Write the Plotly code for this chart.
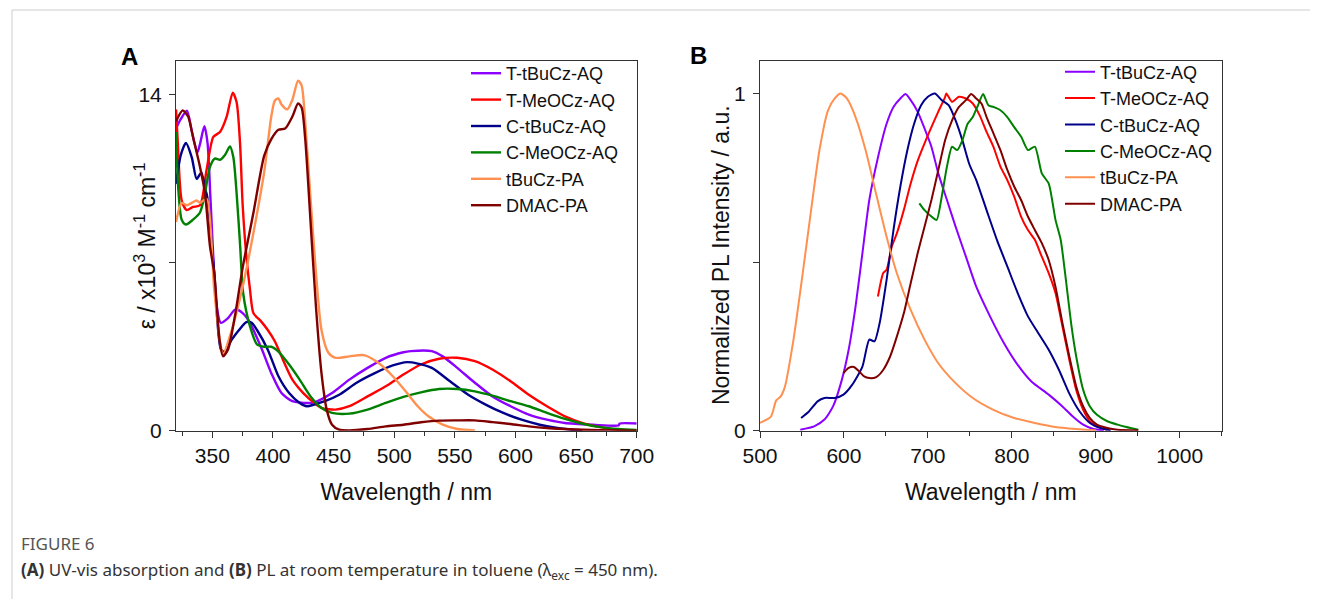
import plotly.graph_objects as go

# The page places the figure 8 px from the top-left corner (default body margin),
# so the figure is sized to the remaining window area and positions are shifted by 8 px.
OFF = 8
W, H = 1322 - OFF, 599 - OFF

# ---------------- Panel A: UV-vis absorption ----------------
names = ["T-tBuCz-AQ", "T-MeOCz-AQ", "C-tBuCz-AQ", "C-MeOCz-AQ", "tBuCz-PA", "DMAC-PA"]
colors = ["#8B00FF", "#FF0000", "#00008B", "#008000", "#FF9050", "#800000"]

abs_T_tBu_x = [320, 324, 329, 333, 337.6, 340, 343.4, 346, 348.5, 351, 353, 357, 363, 369, 375, 381, 390, 398.6,
               407, 416, 425, 434, 448.7, 463, 478, 493, 507.6, 513.5, 531, 540, 552, 566.5, 581, 596, 611, 626,
               640.8, 664, 685, 686, 700]
abs_T_tBu_y = [12.6, 13.0, 13.35, 12.5, 11.6, 12.0, 12.7, 12.0, 9.6, 7.0, 5.4, 4.5, 4.7, 5.06, 4.9, 4.5, 3.5, 2.4,
               1.57, 1.23, 1.16, 1.18, 1.57, 2.13, 2.62, 3.04, 3.27, 3.32, 3.32, 3.1, 2.62, 2.0, 1.43, 1.02, 0.67,
               0.46, 0.32, 0.25, 0.22, 0.3, 0.3]

abs_T_MeO_x = [320, 321.5, 324.7, 328.8, 334, 339.8, 345.3, 350.8, 356.3, 361.8, 366.8, 370, 372.8, 375, 378,
               381, 383.9, 390, 395.7, 401.5, 407, 416, 425, 434, 440, 451.6, 463, 478, 493, 507.6, 522, 537,
               552, 566.5, 581, 596, 611, 626, 640.8, 655.5, 670, 685, 700]
abs_T_MeO_y = [13.4, 12.0, 9.6, 9.2, 9.33, 9.4, 10.9, 12.25, 12.46, 13.1, 14.1, 13.7, 12.0, 9.4, 7.3,
               5.9, 4.9, 4.57, 4.2, 3.73, 3.1, 2.13, 1.57, 1.16, 0.95, 0.88, 1.02, 1.43, 1.85, 2.34, 2.76, 3.0,
               3.04, 2.9, 2.55, 2.06, 1.5, 1.02, 0.6, 0.32, 0.15, 0.04, 0.02]

abs_C_tBu_x = [320, 324, 328.2, 333, 337, 339.8, 341, 344, 345.6, 351.5, 357, 360, 366, 372, 378, 382.4, 386.8,
               395.7, 404.5, 413.3, 422, 428, 434, 442.8, 454.6, 469, 484, 498.8, 510.6, 519.4, 531, 546, 561,
               575.4, 590, 605, 620, 634.5, 645, 655]
abs_C_tBu_y = [10.3, 11.5, 12.0, 11.4, 10.5, 10.7, 10.77, 10.1, 9.8, 6.6, 3.4, 3.3, 3.8, 4.2, 4.53, 4.5, 4.2,
               3.38, 2.27, 1.57, 1.16, 1.02, 1.09, 1.23, 1.5, 2.0, 2.4, 2.72, 2.86, 2.8, 2.62, 2.06, 1.5,
               1.09, 0.74, 0.46, 0.25, 0.11, 0.05, 0.02]

abs_C_MeO_x = [320, 322, 324.7, 328.2, 334, 339.8, 343.9, 348, 352, 356.3, 360.4, 364.5, 367.3, 370, 372.8,
               375.5, 381, 386.8, 392.7, 398.6, 404.5, 413.3, 422, 431, 440, 448.7, 463, 478, 493, 507.6, 522,
               537, 552, 566.5, 581, 596, 611, 626, 640.8, 655.5, 670, 685, 700]
abs_C_MeO_y = [12.46, 10.0, 8.8, 8.6, 8.8, 9.1, 9.9, 11.0, 11.35, 11.3, 11.5, 11.85, 11.4, 9.9, 7.8,
               5.7, 4.36, 3.6, 3.5, 3.5, 3.3, 2.76, 2.13, 1.43, 0.95, 0.74, 0.71, 0.88, 1.16, 1.41, 1.6,
               1.74, 1.74, 1.64, 1.46, 1.23, 1.02, 0.74, 0.49, 0.29, 0.15, 0.07, 0.03]

abs_tBu_PA_x = [320, 324.7, 328.8, 333, 337, 339.8, 342.5, 345.6, 351.5, 357, 358.8, 366, 375, 383.9, 392.7,
                398.6, 401.5, 404.5, 407, 411.8, 416, 420.7, 423.6, 426.6, 431, 435.4, 440, 445.7, 451.6, 463,
                475, 486.8, 498.8, 510.6, 519.4, 528.2, 540, 552, 566.5]
abs_tBu_PA_y = [8.7, 9.5, 9.4, 9.5, 9.6, 9.5, 9.6, 9.65, 5.9, 3.5, 3.18, 4.2, 6.0, 8.26, 10.77,
                13.1, 13.76, 13.86, 13.6, 13.4, 13.8, 14.6, 14.4, 12.86, 9.65, 6.6, 4.2, 3.25, 3.04, 3.1,
                3.15, 2.83, 2.27, 1.57, 1.02, 0.6, 0.25, 0.07, 0.01]

abs_DMAC_x = [320, 325.5, 330, 334, 339.8, 343.9, 348, 351.5, 355.9, 358.8, 363, 369, 375, 383.9, 392.7,
              398.6, 404.5, 410, 416, 420.7, 423.6, 426.6, 431, 435.4, 440, 444.3, 448.7, 454.6, 463, 478,
              493, 507.6, 522, 537, 552, 566.5, 581, 596, 611, 626, 640.8, 655.5, 685, 700]
abs_DMAC_y = [12.9, 13.36, 13.1, 12.25, 11.0, 9.9, 7.7, 6.6, 3.8, 3.1, 3.4, 4.9, 6.8, 9.1, 11.46,
              12.16, 12.55, 12.6, 13.1, 13.65, 13.48, 12.16, 8.7, 5.2, 2.4, 0.88, 0.25, 0.04, 0.01, 0.07,
              0.18, 0.25, 0.35, 0.42, 0.43, 0.43, 0.36, 0.28, 0.18, 0.11, 0.07, 0.04, 0.01, 0.0]

abs_x = [abs_T_tBu_x, abs_T_MeO_x, abs_C_tBu_x, abs_C_MeO_x, abs_tBu_PA_x, abs_DMAC_x]
abs_y = [abs_T_tBu_y, abs_T_MeO_y, abs_C_tBu_y, abs_C_MeO_y, abs_tBu_PA_y, abs_DMAC_y]

# ---------------- Panel B: normalized PL ----------------
pl_T_tBu_x = [548, 564.5, 576.8, 587, 597.4, 605.6, 613.8, 622, 630.2, 640.5, 650.8, 659, 667.2, 673.4, 679.5,
              687.8, 696, 704.2, 712.4, 722.7, 733, 745.3, 757.6, 774, 790.5, 807, 823.3, 843.9, 860.3, 872.6,
              885, 897.3, 909.6]
pl_T_tBu_y = [0.003, 0.013, 0.033, 0.072, 0.15, 0.24, 0.368, 0.526, 0.684, 0.81, 0.91, 0.96, 0.985, 0.998, 0.98,
              0.946, 0.896, 0.842, 0.763, 0.684, 0.605, 0.516, 0.427, 0.339, 0.26, 0.195, 0.146, 0.107, 0.072,
              0.042, 0.018, 0.005, 0.001]

pl_T_MeO_x = [640.5, 646.7, 650.8, 657, 663, 671.3, 679.5, 687.8, 696, 704.2, 712.4, 720.6, 722, 728.8, 737,
              745.3, 753.5, 761.7, 769.9, 778, 786.4, 794.6, 802.8, 811, 819.2, 827.4, 835.7, 843.9, 852, 860.3,
              868.5, 876.7, 885, 893, 901.4, 913.7]
pl_T_MeO_y = [0.398, 0.467, 0.477, 0.546, 0.585, 0.654, 0.733, 0.8, 0.852, 0.9, 0.946, 0.99, 1.0, 0.975, 0.99,
              0.985, 0.97, 0.935, 0.886, 0.842, 0.783, 0.743, 0.694, 0.635, 0.595, 0.566, 0.516, 0.467, 0.408,
              0.309, 0.21, 0.121, 0.062, 0.028, 0.013, 0.003]

pl_C_tBu_x = [548.9, 558.3, 568.6, 576.8, 589, 599.4, 609.7, 622, 630.2, 636.4, 642.6, 650.8, 659, 667.2, 675.4,
              683.6, 691.9, 700, 708.3, 716.5, 724.7, 733, 741.2, 749.4, 757.6, 769.9, 782.2, 794.6, 807, 819.2,
              831.6, 843.9, 856.2, 868.5, 880.8, 893, 905.5, 917.8]
pl_C_tBu_y = [0.0375, 0.057, 0.087, 0.097, 0.097, 0.107, 0.136, 0.19, 0.27, 0.265, 0.32, 0.447, 0.595, 0.724, 0.83,
              0.91, 0.965, 0.99, 1.0, 0.98, 0.965, 0.92, 0.86, 0.79, 0.743, 0.654, 0.566, 0.487, 0.408, 0.339,
              0.289, 0.24, 0.18, 0.11, 0.057, 0.023, 0.008, 0.001]

pl_C_MeO_x = [689.8, 696, 704.2, 710.4, 716.5, 722.7, 728.8, 735, 741.2, 747.3, 753.5, 759.7, 765.8, 772, 778,
              786.4, 794.6, 802.8, 811, 819.2, 827.4, 835.7, 843.9, 848, 852, 858.2, 864.4, 870.6, 876.7, 885,
              893, 901.4, 913.7, 926, 936.4, 950.7]
pl_C_MeO_y = [0.674, 0.654, 0.635, 0.625, 0.694, 0.783, 0.842, 0.832, 0.862, 0.91, 0.93, 0.965, 0.998, 0.965, 0.96,
              0.95, 0.93, 0.9, 0.872, 0.832, 0.842, 0.763, 0.733, 0.684, 0.625, 0.566, 0.447, 0.319, 0.22, 0.121,
              0.072, 0.047, 0.028, 0.018, 0.011, 0.003]

pl_tBu_PA_x = [500, 513, 519.3, 524.2, 529.6, 539.9, 550, 560.4, 570.7, 581, 589, 596, 603.5, 613.8, 626, 638.5,
               650.8, 663, 679.5, 696, 712.4, 733, 753.5, 778, 802.8, 827.4, 852, 876.7, 900]
pl_tBu_PA_y = [0.023, 0.042, 0.09, 0.1, 0.13, 0.27, 0.45, 0.645, 0.83, 0.95, 0.985, 1.0, 0.985, 0.93, 0.83, 0.70,
               0.575, 0.467, 0.358, 0.27, 0.2, 0.141, 0.097, 0.062, 0.0375, 0.023, 0.011, 0.005, 0.001]

pl_DMAC_x = [599.4, 605.6, 611.8, 618, 624, 630.2, 638.5, 646.7, 655, 663, 671.3, 679.5, 687.8, 696, 704.2,
             712.4, 720.6, 728.8, 737, 745.3, 751.5, 757.6, 763.8, 769.9, 778, 786.4, 794.6, 802.8, 811, 819.2,
             827.4, 835.7, 843.9, 852, 860.3, 868.5, 876.7, 885, 893, 901.4, 913.7, 926, 950.7]
pl_DMAC_y = [0.171, 0.186, 0.189, 0.176, 0.161, 0.156, 0.159, 0.18, 0.22, 0.279, 0.348, 0.437, 0.526, 0.605, 0.684,
             0.773, 0.862, 0.92, 0.96, 0.98, 0.998, 0.985, 0.97, 0.93, 0.882, 0.832, 0.773, 0.724, 0.684, 0.635,
             0.595, 0.556, 0.506, 0.427, 0.319, 0.22, 0.131, 0.072, 0.0375, 0.018, 0.008, 0.003, 0.001]

pl_x = [pl_T_tBu_x, pl_T_MeO_x, pl_C_tBu_x, pl_C_MeO_x, pl_tBu_PA_x, pl_DMAC_x]
pl_y = [pl_T_tBu_y, pl_T_MeO_y, pl_C_tBu_y, pl_C_MeO_y, pl_tBu_PA_y, pl_DMAC_y]

absA_ticks = [350, 400, 450, 500, 550, 600, 650, 700]
absA_yticks = [0, 14]
absA_yminor = [7]
plB_ticks = [500, 600, 700, 800, 900, 1000]
plB_yticks = [0, 1]
plB_yminor = [0.5]

xtitle = "Wavelength / nm"
ytitleA = "ε / x10<sup>3</sup> M<sup>-1</sup> cm<sup>-1</sup>"
ytitleB = "Normalized PL Intensity / a.u."
caption_title = "FIGURE 6"
caption_text = ("<b>(A)</b> UV-vis absorption and <b>(B)</b> PL at room temperature in toluene "
                "(λ<sub>exc</sub> = 450 nm).")

FONT = "Liberation Sans, Arial, sans-serif"

fig = go.Figure()
for i, n in enumerate(names):
    fig.add_trace(go.Scatter(x=abs_x[i], y=abs_y[i], mode="lines", name=n,
                             line=dict(color=colors[i], width=2.4, shape="spline", smoothing=0.7),
                             xaxis="x", yaxis="y", legend="legend"))
for i, n in enumerate(names):
    fig.add_trace(go.Scatter(x=pl_x[i], y=pl_y[i], mode="lines", name=n,
                             line=dict(color=colors[i], width=2, shape="spline", smoothing=0.6),
                             xaxis="x2", yaxis="y2", legend="legend2"))


def px_x(p):
    # window pixel (x) -> paper fraction
    return (p - OFF) / W


def px_y(p):
    # window pixel (y, from top) -> paper fraction
    return 1 - (p - OFF) / H


axis_common = dict(showline=True, linecolor="#333333", linewidth=1, mirror=True, showgrid=False,
                   zeroline=False, ticks="outside", tickcolor="#333333", ticklen=6, tickwidth=1,
                   automargin=False, tickfont=dict(family=FONT, size=21, color="#111111"))

fig.update_layout(
    width=W, height=H, margin=dict(l=0, r=0, t=0, b=0, autoexpand=False),
    paper_bgcolor="white", plot_bgcolor="white",
    font=dict(family=FONT, color="#111111"),
    xaxis=dict(domain=[px_x(176), px_x(636.7)], range=[320, 700], tickvals=absA_ticks,
               minor=dict(dtick=25, tick0=300, ticks="outside", ticklen=4, tickcolor="#333333"),
               title=dict(text=xtitle, font=dict(family=FONT, size=23), standoff=17),
               anchor="y", **axis_common),
    yaxis=dict(domain=[px_y(430.7), px_y(60.7)], range=[0, 15.43], tickvals=absA_yticks,
               minor=dict(tickvals=absA_yminor, ticks="outside", ticklen=6, tickcolor="#333333"),
               ticklabelstandoff=3, anchor="x", **axis_common),
    xaxis2=dict(domain=[px_x(760), px_x(1221.7)], range=[500, 1050], tickvals=plB_ticks,
                minor=dict(dtick=50, tick0=500, ticks="outside", ticklen=4, tickcolor="#333333"),
                title=dict(text=xtitle, font=dict(family=FONT, size=23), standoff=17),
                anchor="y2", **axis_common),
    yaxis2=dict(domain=[px_y(430.7), px_y(60.7)], range=[0, 1.097], tickvals=plB_yticks,
                minor=dict(tickvals=plB_yminor, ticks="outside", ticklen=6, tickcolor="#333333"),
                ticklabelstandoff=3, anchor="x2", **axis_common),
    legend=dict(x=px_x(466), y=px_y(55), xanchor="left", yanchor="top", bgcolor="rgba(0,0,0,0)",
                font=dict(family=FONT, size=18, color="#111111"), tracegroupgap=0),
    legend2=dict(x=px_x(1060), y=px_y(53.5), xanchor="left", yanchor="top", bgcolor="rgba(0,0,0,0)",
                 font=dict(family=FONT, size=18, color="#111111"), tracegroupgap=0),
)

# y-axis titles (placed next to the tick labels as in the reference)
fig.add_annotation(x=px_x(144.6), y=px_y(245.7), xref="paper", yref="paper", text=ytitleA, showarrow=False,
                   textangle=-90, font=dict(family=FONT, size=23, color="#111111"),
                   xanchor="center", yanchor="middle")
fig.add_annotation(x=px_x(721), y=px_y(255), xref="paper", yref="paper", text=ytitleB, showarrow=False,
                   textangle=-90, font=dict(family=FONT, size=23, color="#111111"),
                   xanchor="center", yanchor="middle")

# panel letters
fig.add_annotation(x=px_x(129), y=px_y(56), xref="paper", yref="paper", text="<b>A</b>", showarrow=False,
                   font=dict(family=FONT, size=24, color="#000000"), xanchor="center", yanchor="middle")
fig.add_annotation(x=px_x(698), y=px_y(55), xref="paper", yref="paper", text="<b>B</b>", showarrow=False,
                   font=dict(family=FONT, size=24, color="#000000"), xanchor="center", yanchor="middle")

# caption
CAPF = "Noto Sans, Open Sans, sans-serif"
fig.add_annotation(x=px_x(19), y=px_y(543), xref="paper", yref="paper", text=caption_title, showarrow=False,
                   font=dict(family=CAPF, size=17, color="#555555"), xanchor="left", yanchor="middle")
fig.add_annotation(x=px_x(19), y=px_y(570), xref="paper", yref="paper", text=caption_text, showarrow=False,
                   font=dict(family=CAPF, size=17, color="#333333"), xanchor="left", yanchor="middle")

# frame lines of the figure box
fig.add_shape(type="line", xref="paper", yref="paper", x0=px_x(12), x1=px_x(1310), y0=px_y(10), y1=px_y(10),
              line=dict(color="#cccccc", width=1))
fig.add_shape(type="line", xref="paper", yref="paper", x0=px_x(12), x1=px_x(12), y0=px_y(10), y1=0,
              line=dict(color="#cccccc", width=1))

fig.write_html("out.html")
